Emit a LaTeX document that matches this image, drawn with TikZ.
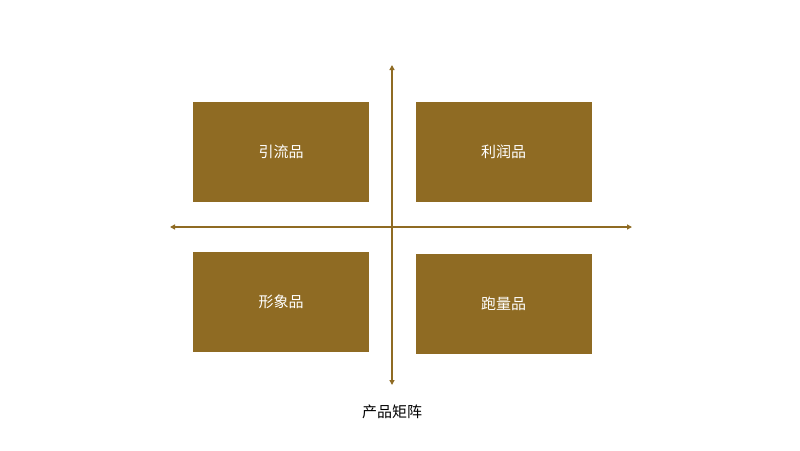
\documentclass[tikz,border=0pt]{standalone}
\usepackage{fontspec}
\newfontfamily\cjk{Noto Sans CJK SC}
\usetikzlibrary{arrows.meta}
\definecolor{gold}{HTML}{8F6B23}
\begin{document}
\begin{tikzpicture}[x=1pt,y=-1pt,
  quad/.style={fill=gold,draw=none,minimum width=176pt,minimum height=100pt,inner sep=0pt,text=white,font=\cjk\fontsize{15}{17}\selectfont},
  axis/.style={draw=gold,line width=1.5pt,{Triangle[length=5pt,width=5pt]}-{Triangle[length=5pt,width=5pt]}},
  lbl/.style={font=\cjk\fontsize{15}{17}\selectfont,text=black}]
\useasboundingbox (0,0) rectangle (800,450);
\node[quad] (tl) at (281,152) {引流品};
\node[quad] (tr) at (503.5,152) {利润品};
\node[quad] (bl) at (281,302) {形象品};
\node[quad] (br) at (503.5,304) {跑量品};
\coordinate (xl) at (170,227);
\coordinate (xr) at (632,227);
\coordinate (yt) at (392,65);
\coordinate (yb) at (392,385);
\draw[axis] (xl) -- (xr);
\draw[axis] (yt) -- (yb);
\node[lbl] (cap) at (392,412) {产品矩阵};
\end{tikzpicture}
\end{document}
